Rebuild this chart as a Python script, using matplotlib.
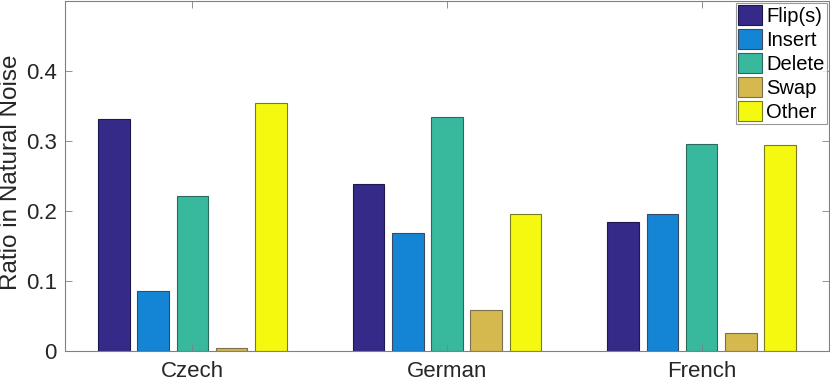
import numpy as np
import matplotlib
matplotlib.use('Agg')
import matplotlib.pyplot as plt

plt.rcParams['font.family'] = ['Liberation Sans', 'DejaVu Sans']

languages = ['Czech', 'German', 'French']
noise_types = ['Flip(s)', 'Insert', 'Delete', 'Swap', 'Other']
ratios = {
    'Flip(s)': [0.331, 0.239, 0.185],
    'Insert':  [0.086, 0.169, 0.196],
    'Delete':  [0.222, 0.335, 0.296],
    'Swap':    [0.004, 0.058, 0.026],
    'Other':   [0.354, 0.196, 0.295],
}
colors = ['#352a87', '#1485d4', '#38b99e', '#d5b94f', '#f5f910']
edges = ['#1e1850', '#3a4a60', '#2a6a5c', '#7a7050', '#7a7a20']

fig = plt.figure(figsize=(8.3, 3.81), dpi=100)
ax = fig.add_axes([65/830, 30/381, 764/830, 350/381])

x = np.arange(1, len(languages) + 1)
step = 0.154
width = 0.124
for i, name in enumerate(noise_types):
    ax.bar(x + (i - 2) * step, ratios[name], width, color=colors[i],
           edgecolor=edges[i], linewidth=0.8, label=name)

ax.set_xlim(0.5, 3.5)
ax.set_ylim(0, 0.5)
ax.set_xticks(x)
ax.set_xticklabels(languages)
ax.set_yticks([0, 0.1, 0.2, 0.3, 0.4])
ax.set_yticklabels(['0', '0.1', '0.2', '0.3', '0.4'])
ax.set_ylabel('Ratio in Natural Noise', fontsize=17.5, color='#262626')
ax.yaxis.set_label_coords(-43/764, 0.51)
ax.tick_params(direction='in', length=5, width=0.6, colors='#808080',
               labelcolor='#262626', labelsize=16, top=True, right=True)
ax.tick_params(axis='x', pad=7)
ax.tick_params(axis='y', pad=6)
for s in ax.spines.values():
    s.set_color('#808080')
    s.set_linewidth(0.8)

leg = ax.legend(loc='upper right', fontsize=14.5, frameon=True, fancybox=False,
                edgecolor='#808080', borderpad=0.12, labelspacing=0.17,
                handlelength=1.2, handleheight=1.1, handletextpad=0.2,
                borderaxespad=0.1)
leg.get_frame().set_linewidth(0.8)

plt.savefig('out.png', dpi=100)
